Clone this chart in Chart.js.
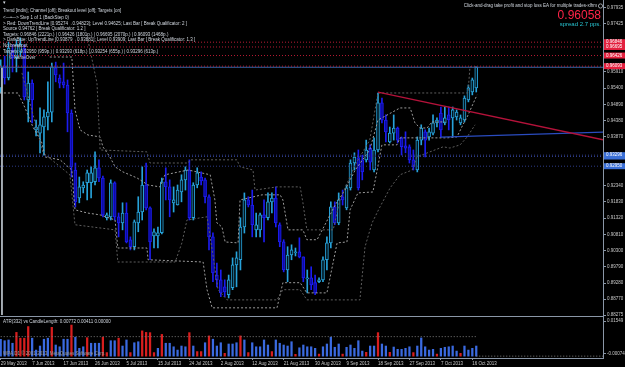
<!DOCTYPE html>
<html>
<head>
<meta charset="utf-8">
<title>Daily chart with trendlines and ATR</title>
<script src="https://cdn.jsdelivr.net/npm/chart.js@4.4.0/dist/chart.umd.min.js"></script>
<style>
  html, body { margin: 0; padding: 0; background: #000; }
  #wrap { position: relative; width: 625px; height: 367px; overflow: hidden; background: #000; }
  #mainChart { position: absolute; left: 0; top: 0; }
  #atrChart { position: absolute; left: 0; top: 316px; }
  #sep { position: absolute; left: 0; top: 316px; width: 604px; height: 1px; background: #8a96a6; }
</style>
</head>
<body>
<div id="wrap">
  <canvas id="mainChart" width="625" height="320"></canvas>
  <canvas id="atrChart" width="625" height="51"></canvas>
  <div id="sep"></div>
</div>
<script>
// daily bars, 29 May 2013 .. 17 Oct 2013 (index 0..121)
const dateLabels = ['29 May 2013', '7 Jun 2013', '17 Jun 2013', '26 Jun 2013', '5 Jul 2013', '15 Jul 2013',
    '24 Jul 2013', '2 Aug 2013', '12 Aug 2013', '21 Aug 2013', '30 Aug 2013', '9 Sep 2013',
    '18 Sep 2013', '27 Sep 2013', '7 Oct 2013', '16 Oct 2013'];
const barsPerLabel = 8;

const opens = [
    0.9541, 0.9610, 0.9572, 0.9660, 0.9635, 0.9654, 0.9666, 0.9503, 0.9556, 0.9409,
    0.9399, 0.9418, 0.9450, 0.9465, 0.9604, 0.9572, 0.9560, 0.9550, 0.9462, 0.9283,
    0.9195, 0.9227, 0.9243, 0.9243, 0.9246, 0.9290, 0.9258, 0.9133, 0.9136, 0.9243,
    0.9136, 0.9117, 0.9148, 0.9064, 0.9042, 0.9117, 0.9151, 0.9236, 0.9164, 0.9076,
    0.9076, 0.9086, 0.9246, 0.9230, 0.9180, 0.9173, 0.9214, 0.9252, 0.9283, 0.9133,
    0.9236, 0.9261, 0.9252, 0.9199, 0.9073, 0.8953, 0.8938, 0.8916, 0.8891, 0.8913,
    0.8985, 0.9001, 0.9104, 0.9189, 0.9173, 0.9095, 0.9095, 0.9142, 0.9133, 0.9183,
    0.9195, 0.9111, 0.9057, 0.8969, 0.9016, 0.9023, 0.9026, 0.9010, 0.8941, 0.8944,
    0.8929, 0.8932, 0.8938, 0.9001, 0.9054, 0.9167, 0.9117, 0.9199, 0.9164, 0.9227,
    0.9305, 0.9321, 0.9315, 0.9315, 0.9352, 0.9283, 0.9346, 0.9494, 0.9440, 0.9371,
    0.9399, 0.9415, 0.9384, 0.9359, 0.9356, 0.9315, 0.9283, 0.9377, 0.9403, 0.9387,
    0.9399, 0.9431, 0.9462, 0.9431, 0.9456, 0.9447, 0.9450, 0.9431, 0.9440, 0.9503,
    0.9528, 0.9541
];
const highs = [
    0.9629, 0.9641, 0.9685, 0.9676, 0.9692, 0.9698, 0.9676, 0.9591, 0.9566, 0.9440,
    0.9478, 0.9472, 0.9560, 0.9619, 0.9622, 0.9582, 0.9619, 0.9566, 0.9472, 0.9305,
    0.9261, 0.9246, 0.9283, 0.9293, 0.9340, 0.9315, 0.9264, 0.9148, 0.9252, 0.9246,
    0.9148, 0.9180, 0.9180, 0.9073, 0.9126, 0.9199, 0.9293, 0.9305, 0.9167, 0.9098,
    0.9104, 0.9258, 0.9290, 0.9252, 0.9230, 0.9236, 0.9268, 0.9293, 0.9315, 0.9243,
    0.9290, 0.9277, 0.9258, 0.9205, 0.9086, 0.8991, 0.8969, 0.8938, 0.8953, 0.9007,
    0.9026, 0.9133, 0.9211, 0.9199, 0.9220, 0.9148, 0.9148, 0.9189, 0.9211, 0.9211,
    0.9230, 0.9117, 0.9064, 0.9042, 0.9048, 0.9038, 0.9070, 0.9010, 0.8969, 0.8979,
    0.8953, 0.8944, 0.9010, 0.9073, 0.9183, 0.9183, 0.9211, 0.9220, 0.9236, 0.9315,
    0.9337, 0.9346, 0.9330, 0.9377, 0.9362, 0.9384, 0.9525, 0.9509, 0.9456, 0.9418,
    0.9456, 0.9418, 0.9387, 0.9403, 0.9362, 0.9346, 0.9387, 0.9425, 0.9409, 0.9415,
    0.9456, 0.9447, 0.9481, 0.9481, 0.9481, 0.9481, 0.9472, 0.9456, 0.9516, 0.9550,
    0.9572, 0.9607
];
const lows = [
    0.9525, 0.9553, 0.9566, 0.9591, 0.9591, 0.9641, 0.9503, 0.9434, 0.9431, 0.9390,
    0.9337, 0.9330, 0.9409, 0.9434, 0.9560, 0.9541, 0.9541, 0.9403, 0.9261, 0.9167,
    0.9180, 0.9211, 0.9189, 0.9195, 0.9236, 0.9246, 0.9136, 0.9126, 0.9126, 0.9126,
    0.9073, 0.9095, 0.9054, 0.9032, 0.9032, 0.9089, 0.9126, 0.9158, 0.9001, 0.9038,
    0.9038, 0.9082, 0.9189, 0.9136, 0.9151, 0.9173, 0.9183, 0.9220, 0.9126, 0.9126,
    0.9227, 0.9236, 0.9180, 0.9032, 0.8932, 0.8916, 0.8885, 0.8885, 0.8881, 0.8907,
    0.8916, 0.8969, 0.9085, 0.9167, 0.9073, 0.9073, 0.9073, 0.9057, 0.9126, 0.9148,
    0.9104, 0.9042, 0.8963, 0.8932, 0.9001, 0.9013, 0.9007, 0.8932, 0.8897, 0.8907,
    0.8891, 0.8929, 0.8932, 0.8969, 0.9038, 0.9111, 0.9111, 0.9173, 0.9158, 0.9220,
    0.9283, 0.9220, 0.9252, 0.9308, 0.9283, 0.9277, 0.9340, 0.9431, 0.9371, 0.9368,
    0.9377, 0.9368, 0.9330, 0.9337, 0.9305, 0.9283, 0.9277, 0.9362, 0.9324, 0.9377,
    0.9393, 0.9418, 0.9387, 0.9425, 0.9409, 0.9387, 0.9440, 0.9425, 0.9434, 0.9497,
    0.9519, 0.9528
];
const closes = [
    0.9610, 0.9572, 0.9666, 0.9635, 0.9676, 0.9679, 0.9513, 0.9556, 0.9503, 0.9418,
    0.9425, 0.9450, 0.9465, 0.9607, 0.9582, 0.9556, 0.9550, 0.9462, 0.9293, 0.9183,
    0.9230, 0.9236, 0.9274, 0.9274, 0.9290, 0.9258, 0.9142, 0.9142, 0.9243, 0.9136,
    0.9117, 0.9148, 0.9057, 0.9042, 0.9120, 0.9151, 0.9236, 0.9164, 0.9057, 0.9089,
    0.9086, 0.9246, 0.9230, 0.9189, 0.9189, 0.9220, 0.9252, 0.9283, 0.9133, 0.9236,
    0.9274, 0.9249, 0.9199, 0.9073, 0.8960, 0.8938, 0.8897, 0.8900, 0.8938, 0.8985,
    0.9007, 0.9104, 0.9189, 0.9173, 0.9111, 0.9111, 0.9142, 0.9133, 0.9183, 0.9195,
    0.9117, 0.9057, 0.8969, 0.9016, 0.9032, 0.9026, 0.9010, 0.8944, 0.8944, 0.8922,
    0.8897, 0.8938, 0.9001, 0.9054, 0.9167, 0.9117, 0.9189, 0.9189, 0.9227, 0.9305,
    0.9324, 0.9227, 0.9277, 0.9346, 0.9308, 0.9346, 0.9494, 0.9440, 0.9403, 0.9399,
    0.9415, 0.9377, 0.9356, 0.9352, 0.9315, 0.9293, 0.9377, 0.9415, 0.9377, 0.9403,
    0.9431, 0.9440, 0.9409, 0.9447, 0.9440, 0.9472, 0.9465, 0.9447, 0.9509, 0.9541,
    0.9566, 0.96058
];

// channel lines: [bar index, price]
const upperDim = [[22.2, 0.9691], [24.5, 0.9556], [25.3, 0.9346], [37.2, 0.9340], [38.0, 0.9305], [47.7, 0.9305],
    [48.2, 0.9315], [60.1, 0.9315], [60.9, 0.9293], [64.2, 0.9283], [64.7, 0.9220], [70.3, 0.9230], [76.2, 0.9230],
    [76.9, 0.9180], [77.9, 0.9095], [84.6, 0.9095], [86.3, 0.9189], [90.2, 0.9299], [93.9, 0.9377], [96.0, 0.9525],
    [118.9, 0.9525], [119.4, 0.9607], [120.9, 0.9607]];
const upperLight = [[12.5, 0.9638], [18.1, 0.9638], [18.9, 0.9472], [20.2, 0.9409], [22.2, 0.9393], [25.3, 0.9387],
    [26.0, 0.9356], [27.8, 0.9324], [29.1, 0.9293], [31.1, 0.9277], [34.7, 0.9258], [37.5, 0.9236], [40.5, 0.9230],
    [41.8, 0.9268], [47.7, 0.9283], [53.3, 0.9268], [54.5, 0.9189], [55.0, 0.9117], [56.3, 0.9104], [57.1, 0.9057],
    [60.4, 0.9054], [60.9, 0.9189], [66.5, 0.9205], [71.1, 0.9205], [71.8, 0.9189], [73.1, 0.9095], [76.9, 0.9095],
    [77.9, 0.9064], [80.5, 0.9064], [82.5, 0.9111], [85.1, 0.9173], [87.6, 0.9220], [90.2, 0.9283], [93.9, 0.9346],
    [96.0, 0.9440], [101.6, 0.9478], [104.2, 0.9478], [105.4, 0.9431], [106.7, 0.9415], [108.5, 0.9415],
    [109.7, 0.9434], [113.1, 0.9434]];
const lowerLight = [[-0.2, 0.9525], [4.4, 0.9525], [6.2, 0.9478], [8.2, 0.9418], [10.5, 0.9368], [11.3, 0.9324],
    [15.1, 0.9315], [18.1, 0.9283], [18.4, 0.9230], [18.9, 0.9158], [22.0, 0.9148], [25.3, 0.9142], [29.1, 0.9126],
    [29.8, 0.9038], [37.2, 0.9038], [37.5, 0.9001], [51.5, 0.8994], [52.5, 0.8907], [53.8, 0.8850], [70.3, 0.8850],
    [71.8, 0.8929], [76.2, 0.8929], [77.9, 0.8897], [83.0, 0.8897], [85.6, 0.9054], [88.1, 0.9057], [88.9, 0.9158],
    [90.9, 0.9211], [94.7, 0.9214], [95.8, 0.9283], [97.0, 0.9362], [100.8, 0.9362], [101.6, 0.9384], [113.6, 0.9384],
    [116.1, 0.9387], [117.6, 0.9425], [118.7, 0.9450], [121.2, 0.9519]];
const lowerDim = [[5.4, 0.9588], [10.8, 0.9337], [17.6, 0.9268], [18.9, 0.9111], [29.1, 0.9095], [29.8, 0.8994],
    [44.4, 0.8994], [46.1, 0.9054], [47.4, 0.9126], [52.5, 0.9136], [53.8, 0.9032], [55.3, 0.8907], [57.6, 0.8875],
    [70.3, 0.8875], [71.8, 0.8907], [76.2, 0.8907], [77.9, 0.8875], [91.4, 0.8875], [92.7, 0.9042], [94.5, 0.9117],
    [96.5, 0.9167], [99.1, 0.9227], [101.6, 0.9268], [104.7, 0.9283], [105.9, 0.9324], [109.2, 0.9340],
    [112.6, 0.9356], [114.3, 0.9352], [116.9, 0.9362], [118.7, 0.9387], [120.7, 0.9425]];

const redTrend = [[96, 0.95274], [153.25, 0.9378]];
const blueTrend = [[112, 0.9386], [153.25, 0.9402]];
const redTargets = [0.96846, 0.96695, 0.96426, 0.96093];
const blueTargets = [0.93296, 0.93254, 0.92950];
const bidPrice = 0.96058;
const spread = 2.7;

const priceTicks = [0.97935, 0.97425, 0.95910, 0.95400, 0.94890, 0.94380, 0.93870, 0.92340, 0.91830,
    0.91320, 0.90810, 0.90300, 0.89790, 0.89280, 0.88770, 0.88275];

// ATR(332) vs candle length histogram
const atrBlue = [
    0.0067, 0.0061, 0.0064, 0.0051, null, null, null, null, 0.0071, 0.0024,
    0.0040, 0.0067, 0.0071, null, 0.0044, 0.0037, 0.0067, 0.0067, null, 0.0075,
    0.0031, 0.0037, null, 0.0051, 0.0051, 0.0051, null, null, 0.0061, 0.0061,
    null, 0.0040, 0.0064, null, 0.0053, 0.0057, null, null, null, null,
    0.0031, null, 0.0051, 0.0051, 0.0037, 0.0024, 0.0040, 0.0037, null, 0.0040,
    null, null, 0.0053, null, 0.0067, 0.0040, 0.0053, null, 0.0048, 0.0048,
    0.0053, null, 0.0064, null, 0.0053, 0.0037, 0.0037, 0.0064, 0.0044, null,
    0.0064, 0.0051, 0.0044, 0.0040, 0.0057, null, 0.0033, 0.0044, 0.0037, 0.0037,
    0.0031, null, 0.0037, 0.0048, 0.0075, 0.0035, 0.0048, null, 0.0035, 0.0044,
    0.0031, 0.0061, 0.0020, null, 0.0040, 0.0040, null, 0.0048, 0.0040, null,
    0.0036, 0.0027, 0.0027, 0.0031, 0.0037, null, 0.0040, 0.0072, 0.0037, 0.0024,
    0.0027, null, 0.0031, 0.0035, 0.0037, 0.0040, 0.0020, null, 0.0040, 0.0024,
    0.0031, 0.0040
];
const atrRed = [
    null, null, null, null, 0.0094, 0.0071, 0.0071, 0.0117, null, null,
    null, null, null, 0.0114, null, null, null, null, 0.0123, null,
    null, null, 0.0073, null, null, null, 0.0075, 0.0014, null, null,
    0.0071, null, null, 0.0014, null, null, 0.0100, 0.0094, 0.0093, 0.0014,
    null, 0.0086, null, null, null, null, null, null, 0.0093, null,
    0.0018, 0.0018, null, 0.0080, null, null, null, 0.0011, null, null,
    null, 0.0080, null, 0.0014, null, null, null, null, null, 0.0018,
    null, null, null, null, null, 0.0007, null, null, null, null,
    null, 0.0008, null, null, null, null, null, 0.0008, null, null,
    null, null, null, 0.0015, null, null, 0.0093, null, null, 0.0015,
    null, null, null, null, null, 0.0014, null, null, null, null,
    null, 0.0008, null, null, null, null, null, 0.0011, null, null,
    null, null
];
const atrLevel = 0.00772;
const atrReadout = [0.00772, 0.00411, 0.00000];

const infoLines = [
    '\u25BE',
    'Trend [indiv]; Channel [off]; Breakout level [off]; Targets [on]',
    '<\u2014\u2022\u2014> Step 1 of 1 (BackStep 0)',
    '> Red: DownTrendLine [0.95274\u21920.94823]; Level 0.94625; Last Bar [ Break Qualificator: 2 ]',
    'Source 0.94762 [ Break Qualificator: 1.2 ]',
    'Targets: 0.96846 (2221p.) | 0.96426 (1801p.) | 0.96695 (2070p.) | 0.96093 (1468p.)',
    '> DarkBlue: UpTrendLine [0.93879\u21920.93881]; Level 0.93909; Last Bar [ Break Qualificator: 1.3 ]',
    'No breakout',
    'Targets: 0.92950 (959p.) | 0.93293 (618p.) | 0.93254 (655p.) | 0.93296 (613p.)',
    '     \u00A9 NameOver'
];
const infoRows = [3, 11, 18, 24, 29, 34.5, 40, 46, 52, 58];

const X_MIN = -0.18, X_MAX = 153.25;
const Y_MIN = 0.88275, Y_MAX = 0.98171;
const ATR_MIN = -0.00074, ATR_MAX = 0.01549;

const AXIS = '#8a96a6';
const TXT = '#c8c8c8';
const FONT = { family: 'Liberation Sans', size: 4.5 };
const BULL = '#27a2da', BEAR = '#1c1cf0';

function lineSet(points, color, dash, width, order) {
    return {
        type: 'line',
        data: points.map(p => ({ x: p[0], y: p[1] })),
        borderColor: color,
        borderWidth: width,
        borderDash: dash,
        pointRadius: 0,
        fill: false,
        tension: 0,
        order: order
    };
}

function levelSet(v, color, dash, order) {
    return lineSet([[X_MIN, v], [X_MAX, v]], color, dash, 1, order);
}

const bull = opens.map((o, i) => closes[i] >= o);
const bodyData = opens.map((o, i) => ({ x: i, y: [o, closes[i]] }));
const wickData = lows.map((l, i) => ({ x: i, y: [l, highs[i]] }));

const mainOverlay = {
    id: 'mainOverlay',
    afterDraw(chart) {
        const ctx = chart.ctx;
        const ys = chart.scales.y;
        ctx.save();
        ctx.textBaseline = 'middle';
        ctx.font = '4.5px "Liberation Sans"';
        ctx.fillStyle = '#d2d8e0';
        infoLines.forEach((t, k) => ctx.fillText(t, 3, infoRows[k]));

        ctx.textAlign = 'right';
        ctx.fillText('Click-and-drag take profit and stop loss EA for multiple trades-xlhm', 597, 6);
        ctx.strokeStyle = '#d2d8e0';
        ctx.lineWidth = 0.7;
        ctx.beginPath();
        ctx.arc(600.5, 6, 2.1, 0, Math.PI * 2);
        ctx.stroke();

        ctx.font = '12px "Liberation Sans"';
        ctx.fillStyle = '#ff2448';
        ctx.fillText(bidPrice.toFixed(5), 601, 15.5);
        ctx.font = '6px "Liberation Sans"';
        ctx.fillStyle = '#27c2cf';
        ctx.fillText('spread ' + spread + ' pps.', 601, 24.5);

        // price tags on the right scale
        ctx.textAlign = 'left';
        ctx.font = '4.5px "Liberation Sans"';
        const tag = (v, bg) => {
            const py = ys.getPixelForValue(v);
            ctx.fillStyle = bg;
            ctx.fillRect(604, py - 3, 21, 6);
            ctx.fillStyle = '#ffffff';
            ctx.fillText(v.toFixed(5), 606, py);
        };
        redTargets.forEach(v => tag(v, '#e3203e'));
        [0.93254, 0.93296, 0.92950].forEach(v => tag(v, '#3b6fd6'));
        ctx.restore();
    }
};

new Chart(document.getElementById('mainChart'), {
    type: 'bar',
    data: {
        datasets: [
            ...redTargets.map(v => levelSet(v, '#b81a34', [1, 2], 0)),
            ...blueTargets.map(v => levelSet(v, '#2e3c88', [1, 2], 0)),
            levelSet(bidPrice, '#3a66a8', [], 0),
            lineSet(redTrend, '#b4123a', [], 1.3, 0),
            lineSet(blueTrend, '#2a4cc0', [], 1.3, 0),
            lineSet([[X_MIN + 0.5, bidPrice], [X_MIN + 0.5, Y_MIN]], '#b8c0c8', [], 1, 0),
            lineSet(upperDim, '#5e5e5e', [2, 2], 1, 1),
            lineSet(lowerDim, '#5e5e5e', [2, 2], 1, 1),
            lineSet(upperLight, '#9c9c9c', [2, 2], 1, 1),
            lineSet(lowerLight, '#9c9c9c', [2, 2], 1, 1),
            {
                type: 'bar',
                data: bodyData,
                backgroundColor: bull.map(b => b ? '#03161f' : '#0c0ca0'),
                borderColor: bull.map(b => b ? BULL : BEAR),
                borderWidth: 1,
                borderSkipped: false,
                barThickness: 3,
                minBarLength: 1,
                grouped: false,
                order: 2
            },
            {
                type: 'bar',
                data: wickData,
                backgroundColor: bull.map(b => b ? BULL : BEAR),
                borderWidth: 0,
                barThickness: 1,
                grouped: false,
                order: 3
            }
        ]
    },
    options: {
        responsive: false,
        animation: false,
        devicePixelRatio: 1,
        layout: { padding: { left: 0, right: 0, top: 0, bottom: 5 } },
        plugins: { legend: { display: false }, tooltip: { enabled: false } },
        scales: {
            x: { type: 'linear', min: X_MIN, max: X_MAX, display: false, offset: false, grid: { offset: false } },
            y: {
                position: 'right',
                min: Y_MIN,
                max: Y_MAX,
                afterBuildTicks: s => { s.ticks = priceTicks.map(v => ({ value: v })); },
                afterFit: s => { s.width = 22; s.paddingTop = 0; s.paddingBottom = 0; },
                ticks: { color: TXT, font: FONT, padding: 1, autoSkip: false, callback: v => v.toFixed(5) },
                grid: { drawOnChartArea: false, color: AXIS, tickLength: 3 },
                border: { color: AXIS }
            }
        }
    },
    plugins: [mainOverlay]
});

const atrOverlay = {
    id: 'atrOverlay',
    afterDraw(chart) {
        const ctx = chart.ctx;
        ctx.save();
        ctx.textBaseline = 'middle';
        ctx.font = '4.5px "Liberation Sans"';
        ctx.fillStyle = '#d2d8e0';
        ctx.fillText('ATR(332) vs CandleLength: ' + atrReadout.map(v => v.toFixed(5)).join(' '), 3, 6);
        ctx.fillStyle = '#9a9a9a';
        ctx.fillText('WPA,D1 \u00A9 2001-2013, MetaQuotes Software Corp.', 3, 38);
        ctx.restore();
    }
};

new Chart(document.getElementById('atrChart'), {
    type: 'bar',
    data: {
        datasets: [
            lineSet([[0, atrLevel], [opens.length - 1, atrLevel]], '#7c7c7c', [1, 2], 1, 0),
            lineSet([[opens.length - 1, 0], [X_MAX, 0]], '#7c7c7c', [1, 2], 1, 0),
            {
                type: 'bar',
                data: atrBlue.map((v, i) => ({ x: i, y: v })),
                backgroundColor: '#3a6ae0',
                barThickness: 1.6,
                grouped: false,
                order: 1
            },
            {
                type: 'bar',
                data: atrRed.map((v, i) => ({ x: i, y: v })),
                backgroundColor: '#d81e1e',
                barThickness: 1.6,
                grouped: false,
                order: 1
            }
        ]
    },
    options: {
        responsive: false,
        animation: false,
        devicePixelRatio: 1,
        layout: { padding: { left: 0, right: 0, top: 1, bottom: 0 } },
        plugins: { legend: { display: false }, tooltip: { enabled: false } },
        scales: {
            x: {
                type: 'linear',
                min: X_MIN,
                max: X_MAX,
                offset: false,
                afterBuildTicks: s => { s.ticks = dateLabels.map((d, k) => ({ value: k * barsPerLabel })); },
                afterFit: s => { s.height = 9; s.paddingLeft = 0; s.paddingRight = 0; },
                ticks: {
                    color: TXT, font: FONT, padding: 1, align: 'start', autoSkip: false,
                    maxRotation: 0, minRotation: 0,
                    callback: (v, idx) => dateLabels[idx]
                },
                grid: { drawOnChartArea: false, color: AXIS, tickLength: 2, offset: false },
                border: { color: AXIS }
            },
            y: {
                position: 'right',
                min: ATR_MIN,
                max: ATR_MAX,
                afterBuildTicks: s => {
                    const pad = (ATR_MAX - ATR_MIN) * 0.1;
                    s.ticks = [{ value: ATR_MAX - pad }, { value: ATR_MIN + pad }];
                },
                afterFit: s => { s.width = 22; s.paddingTop = 0; s.paddingBottom = 0; },
                ticks: {
                    color: TXT, font: FONT, padding: 1, autoSkip: false,
                    callback: (v, idx) => (idx === 0 ? ATR_MAX : ATR_MIN).toFixed(5)
                },
                grid: { drawOnChartArea: false, color: AXIS, tickLength: 3 },
                border: { color: AXIS }
            }
        }
    },
    plugins: [atrOverlay]
});
</script>
</body>
</html>
